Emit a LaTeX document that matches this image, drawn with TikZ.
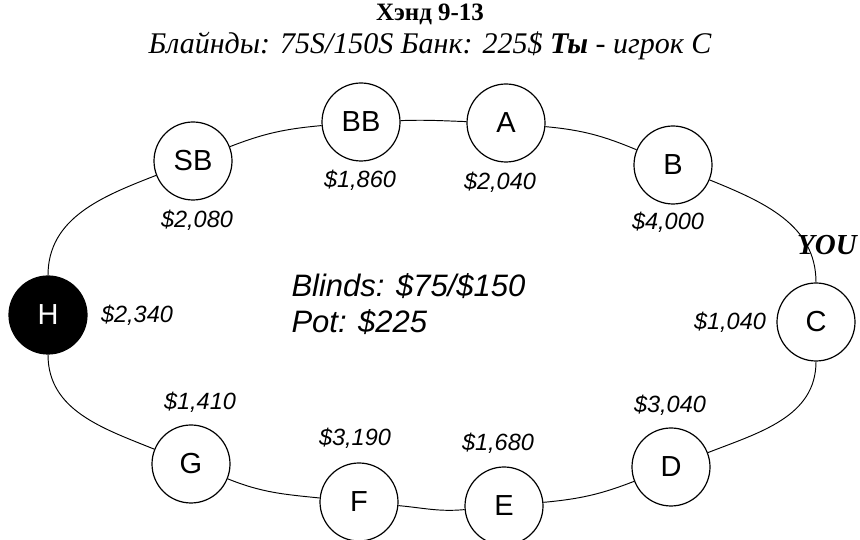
\documentclass[tikz,border=0pt]{standalone}
\usepackage{fontspec}
\setmainfont{Liberation Serif}
\newfontfamily\seatfont{Liberation Sans}

\begin{document}
\begin{tikzpicture}[x=1pt,y=1pt,
    seat/.style={draw,line width=1.2pt,fill=white,shape=circle,inner sep=0pt,%
      minimum size=78pt,font=\seatfont\fontsize{29}{29}\selectfont},
    stack/.style={font=\seatfont\itshape\fontsize{23.5}{23.5}\selectfont},
    rim/.style={line width=0.95pt}]
      \useasboundingbox (0,0) rectangle (860,540) ;
      % heading
      \node[font=\bfseries\fontsize{25}{25}\selectfont] (title) at (430,526) {Хэнд 9-13} ;
      \node[anchor=base,font=\itshape\fontsize{30}{30}\selectfont] %
      (sub) at (430,486) {Блайнды: 75S/150S Банк: 225\$ \textbf{Ты} - игрок C} ;
      % seats round the table
      \node[seat,fill=black,text=white] (H) at (48,225) {H} ;
      \node[seat] (SB) at (193,379) {SB} ;
      \node[seat] (BB) at (361,418) {BB} ;
      \node[seat] (A) at (506,417) {A} ;
      \node[seat] (B) at (673,375) {B} ;
      \node[seat] (C) at (816,218) {C} ;
      \node[seat] (D) at (671,73) {D} ;
      \node[seat] (E) at (504,34) {E} ;
      \node[seat] (F) at (359,38) {F} ;
      \node[seat] (G) at (191,76) {G} ;
      % rim
      \draw[rim] (H) to[out=90,in=201.5] (SB) ;
      \draw[rim] (SB) to[out=21.5,in=185.4] (BB) ;
      \draw[rim] (BB) to[out=2,in=178] (A) ;
      \draw[rim] (A) to[out=-5.6,in=157.7] (B) ;
      \draw[rim] (B) to[out=-22.3,in=90] (C) ;
      \draw[rim] (C) to[out=-90,in=21.5] (D) ;
      \draw[rim] (D) to[out=201.5,in=5.6] (E) ;
      \draw[rim] (E) to[out=185.6,in=-5.6] (F) ;
      \draw[rim] (F) to[out=174.4,in=-22] (G) ;
      \draw[rim] (G) to[out=158,in=-90] (H) ;
      % stacks
      \node[stack] (sH) at (137,225) {\$2,340} ;
      \node[stack] (sSB) at (197,320) {\$2,080} ;
      \node[stack] (sBB) at (360,360) {\$1,860} ;
      \node[stack] (sA) at (500,358) {\$2,040} ;
      \node[stack] (sB) at (668,318) {\$4,000} ;
      \node[stack] (sC) at (730,218) {\$1,040} ;
      \node[stack] (sD) at (670,135) {\$3,040} ;
      \node[stack] (sE) at (498,97) {\$1,680} ;
      \node[stack] (sF) at (355,102) {\$3,190} ;
      \node[stack] (sG) at (200,138) {\$1,410} ;
      \node[font=\bfseries\itshape\fontsize{29}{29}\selectfont] (you) at (827,295) {YOU} ;
      % middle of the table
      \node[anchor=base west,font=\seatfont\itshape\fontsize{31}{31}\selectfont] %
      (blinds) at (288,243) {Blinds: \$75/\$150} ;
      \node[anchor=base west,font=\seatfont\itshape\fontsize{31}{31}\selectfont] %
      (pot) at (288,207) {Pot: \$225} ;
    \end{tikzpicture}
\end{document}
